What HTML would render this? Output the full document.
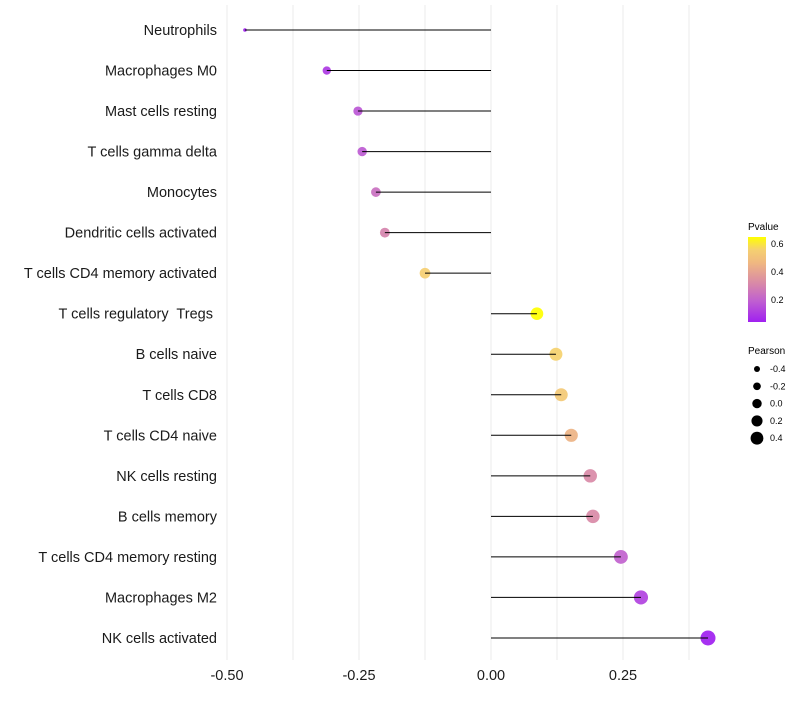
<!DOCTYPE html>
<html><head><meta charset="utf-8"><style>
body{margin:0;background:#fff;font-family:"Liberation Sans",sans-serif}
text{white-space:pre}
</style></head><body>
<svg id="chart" width="800" height="700" xmlns="http://www.w3.org/2000/svg" font-family="Liberation Sans, sans-serif">
<defs><linearGradient id="pg" x1="0" y1="1" x2="0" y2="0">
<stop offset="0" stop-color="#a020f0"/><stop offset="0.25" stop-color="#c060d0"/><stop offset="0.45" stop-color="#d888a8"/><stop offset="0.7" stop-color="#f0b880"/><stop offset="0.85" stop-color="#f5d070"/><stop offset="1" stop-color="#ffff00"/></linearGradient></defs>
<g id="grid"></g>
<g id="marks"></g>
<g id="ylabels"></g>
<g id="xlabels"></g>
<g>
<text x="748" y="230" font-size="10">Pvalue</text>
<rect x="748" y="237" width="18" height="85" fill="url(#pg)"/>
<text x="771" y="247" font-size="9">0.6</text>
<text x="771" y="275" font-size="9">0.4</text>
<text x="771" y="303" font-size="9">0.2</text>
</g>
<g id="sizeleg">
<text x="748" y="354" font-size="10">Pearson</text>
</g>
</svg>
<script>
const categories=["Neutrophils","Macrophages M0","Mast cells resting","T cells gamma delta","Monocytes","Dendritic cells activated","T cells CD4 memory activated","T cells regulatory  Tregs ","B cells naive","T cells CD8","T cells CD4 naive","NK cells resting","B cells memory","T cells CD4 memory resting","Macrophages M2","NK cells activated"];
const pearson=[-0.466,-0.311,-0.252,-0.244,-0.218,-0.201,-0.125,0.087,0.123,0.133,0.152,0.188,0.193,0.246,0.284,0.411];
const pvalues=[0.04,0.1,0.17,0.18,0.24,0.3,0.55,0.65,0.56,0.53,0.45,0.32,0.32,0.2,0.12,0.04];
const xTicks=[-0.5,-0.25,0,0.25];
const xTickLabels=["-0.50","-0.25","0.00","0.25"];
const sizeLegendValues=[-0.4,-0.2,0.0,0.2,0.4];
const NS="http://www.w3.org/2000/svg";
const x=v=>491+v*528;
const y=i=>30+i*40.53;
const pmin=0.04,pmax=0.65;
const stops=[[0,[160,32,240]],[0.25,[192,96,208]],[0.45,[216,136,168]],[0.7,[240,184,128]],[0.85,[245,208,112]],[1,[255,255,0]]];
function color(p){let t=Math.max(0,Math.min(1,(p-pmin)/(pmax-pmin)));for(let k=1;k<stops.length;k++){if(t<=stops[k][0]){const a=stops[k-1],b=stops[k],f=(t-a[0])/(b[0]-a[0]);return "rgb("+a[1].map((c,j)=>Math.round(c+(b[1][j]-c)*f)).join(",")+")";}}return "rgb(255,255,0)";}
const smin=-0.466,smax=0.411;
function r(v){const t=Math.max(0,(v-smin)/(smax-smin));return 1.8+5.7*Math.sqrt(t);}
function mk(tag,attrs,parent){const e=document.createElementNS(NS,tag);for(const k in attrs)e.setAttribute(k,attrs[k]);document.getElementById(parent).appendChild(e);return e;}
for(let g=-0.5;g<=0.41;g+=0.125){const l=mk("line",{x1:x(g),x2:x(g),y1:5,y2:660,stroke:"#ebebeb","stroke-width":1},"grid");

}
categories.forEach((c,i)=>{
 const pt=mk("circle",{cx:x(pearson[i]),cy:y(i),r:r(pearson[i]),fill:color(pvalues[i]),"fill-opacity":0.92},"marks");
 
 
 const ln=mk("line",{x1:x(0),x2:x(pearson[i]),y1:y(i),y2:y(i),stroke:"#000","stroke-width":1},"marks");
 
 
 const t=mk("text",{x:217,y:y(i)+5,"text-anchor":"end","font-size":14.5,fill:"#1a1a1a"},"ylabels");
 t.textContent=c;
 
 
});
xTicks.forEach((v,i)=>{const t=mk("text",{x:x(v),y:680,"text-anchor":"middle","font-size":14.5,fill:"#1a1a1a"},"xlabels");
 t.textContent=xTickLabels[i];
 
 });
sizeLegendValues.forEach((v,i)=>{const cy=369+i*17.3;
 const c=mk("circle",{cx:757,cy:cy,r:3+i*0.85,fill:"#000"},"sizeleg");
 
 
 const t=mk("text",{x:770,y:cy+3,"font-size":9},"sizeleg");
 t.textContent=v.toFixed(1);
 
 });
</script>
</body></html>
